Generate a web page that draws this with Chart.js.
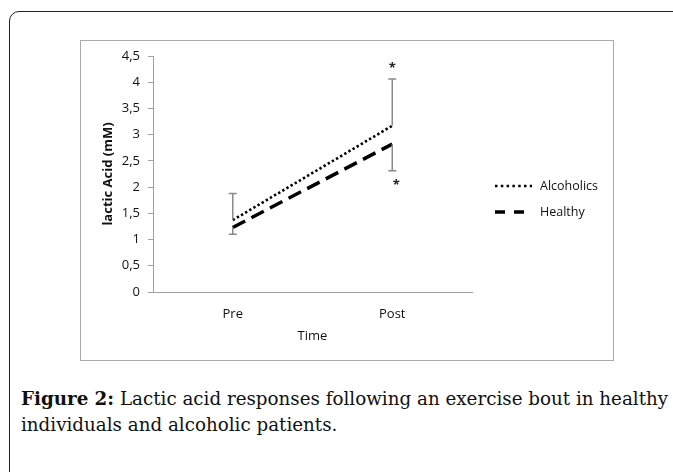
<!DOCTYPE html>
<html lang="en">
<head>
  <meta charset="UTF-8">
  <title>Lactic acid responses</title>
  <script src="https://cdn.jsdelivr.net/npm/chart.js"></script>
  <style>
    html, body { margin: 0; padding: 0; background: #fff; }
    body { width: 673px; height: 472px; position: relative; overflow: hidden; }
    .frame { position: absolute; left: 9px; top: 11px; width: 700px; height: 500px;
             border: 1.5px solid #222; border-top-left-radius: 10px; }
    .plotbox { position: absolute; left: 80px; top: 40px; width: 534px; height: 321px;
               box-sizing: border-box; border: 1px solid #aaa; }
    .plotbox canvas { position: absolute; left: -1px; top: -1px; }
    .caption { position: absolute; left: 21px; top: 386px; width: 660px; white-space: nowrap;
               font-family: "DejaVu Serif", serif; font-size: 18.3px; line-height: 26px; color: #111; }
    .caption b { font-weight: bold; }
  </style>
</head>
<body>
  <div class="frame"></div>
  <div class="plotbox"><canvas id="lacticChart" width="534" height="321"></canvas></div>
  <div class="caption"><b>Figure 2:</b> Lactic acid responses following an exercise bout in healthy<br>individuals and alcoholic patients.</div>

  <script>
    // data
    const timePoints = ['Pre', 'Post'];
    const alcoholics = [1.37, 3.17];
    const alcoholicsSD = [0.51, 0.89];   // drawn upwards
    const healthy = [1.23, 2.82];
    const healthySD = [0.13, 0.51];      // drawn downwards
    const alcoholicsSig = [false, true];
    const healthySig = [false, true];
    const yTickLabels = ['0', '0,5', '1', '1,5', '2', '2,5', '3', '3,5', '4', '4,5'];

    const sans = '"Open Sans", sans-serif';

    // error bars + significance stars
    const errorBars = {
      id: 'errorBars',
      afterDatasetsDraw(chart) {
        const ctx = chart.ctx;
        const y = chart.scales.y;
        chart.data.datasets.forEach((ds, i) => {
          const meta = chart.getDatasetMeta(i);
          meta.data.forEach((pt, j) => {
            const v = ds.data[j];
            const end = v + ds.errDir * ds.err[j];
            const py0 = y.getPixelForValue(v);
            const py1 = y.getPixelForValue(end);
            ctx.save();
            ctx.strokeStyle = '#8a8a8a';
            ctx.lineWidth = 1.5;
            ctx.beginPath();
            ctx.moveTo(pt.x, py0);
            ctx.lineTo(pt.x, py1);
            ctx.moveTo(pt.x - 4, py1);
            ctx.lineTo(pt.x + 4, py1);
            ctx.stroke();
            if (ds.sig[j]) {
              ctx.fillStyle = '#222';
              ctx.font = 'bold 13px ' + sans;
              ctx.textAlign = 'center';
              ctx.textBaseline = 'middle';
              const off = ds.errDir > 0 ? -11 : 14;
              ctx.fillText('*', pt.x + (ds.errDir > 0 ? 0 : 4), py1 + off);
            }
            ctx.restore();
          });
        });
      }
    };

    // legend drawn to the right of the plot
    const sideLegend = {
      id: 'sideLegend',
      afterDraw(chart) {
        const ctx = chart.ctx;
        const area = chart.chartArea;
        const x0 = area.right + 23;
        chart.data.datasets.forEach((ds, i) => {
          const yy = area.top + 130 + i * 26;
          ctx.save();
          ctx.strokeStyle = ds.borderColor;
          ctx.lineWidth = ds.borderWidth;
          ctx.setLineDash(ds.legendDash);
          ctx.beginPath();
          ctx.moveTo(x0, yy);
          ctx.lineTo(x0 + 37, yy);
          ctx.stroke();
          ctx.setLineDash([]);
          ctx.fillStyle = '#111';
          ctx.font = '12.5px ' + sans;
          ctx.textBaseline = 'middle';
          ctx.fillText(ds.label, x0 + 45, yy);
          ctx.restore();
        });
      }
    };

    new Chart('lacticChart', {
      type: 'line',
      data: {
        labels: timePoints,
        datasets: [
          { label: 'Alcoholics', data: alcoholics, err: alcoholicsSD, errDir: 1, sig: alcoholicsSig,
            borderColor: '#000', borderWidth: 2.6, borderDash: [2.4, 2.4],
            legendDash: [2.5, 3.3], pointRadius: 0, fill: false, tension: 0 },
          { label: 'Healthy', data: healthy, err: healthySD, errDir: -1, sig: healthySig,
            borderColor: '#000', borderWidth: 3.5, borderDash: [14, 7],
            legendDash: [10, 9], pointRadius: 0, fill: false, tension: 0 }
        ]
      },
      options: {
        responsive: false,
        animation: false,
        devicePixelRatio: 1,
        layout: { padding: { top: 16, right: 142, left: 0, bottom: 0 } },
        plugins: { legend: { display: false }, tooltip: { enabled: false } },
        scales: {
          x: {
            offset: true,
            afterFit: s => { s.height = 69; },
            grid: { display: false },
            border: { display: true, color: '#a0a0a0', width: 1 },
            ticks: { padding: 6, color: '#111', font: { family: sans, size: 13 } },
            title: { display: true, text: 'Time', color: '#111',
                     font: { family: sans, size: 13 }, padding: { top: 0, bottom: 17 } }
          },
          y: {
            min: 0, max: 4.5,
            afterFit: s => { s.width = 73; },
            grid: { drawOnChartArea: false, drawTicks: true, tickLength: 5, color: '#a0a0a0' },
            border: { display: true, color: '#a0a0a0', width: 1 },
            ticks: { stepSize: 0.5, padding: 8, color: '#111', font: { family: sans, size: 13 },
                     callback: (v, i) => yTickLabels[i] },
            title: { display: true, text: 'lactic Acid (mM)', color: '#111',
                     font: { family: sans, size: 13, weight: 'bold' }, padding: { top: 20, bottom: 0 } }
          }
        }
      },
      plugins: [errorBars, sideLegend]
    });
  </script>
</body>
</html>
